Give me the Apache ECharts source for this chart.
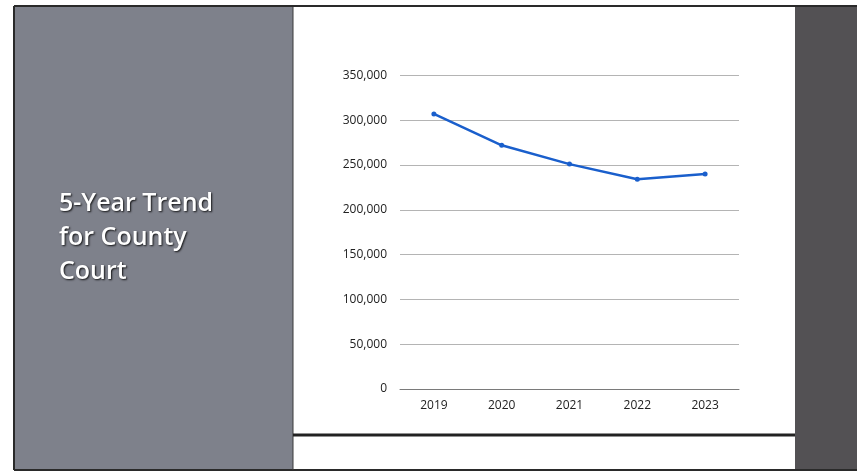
<!DOCTYPE html>
<html>
<head>
<meta charset="utf-8">
<script src="https://cdn.jsdelivr.net/npm/echarts@6/dist/echarts.min.js"></script>
<style>
  html, body { margin: 0; padding: 0; background: #ffffff; }
  #chart { width: 857px; height: 474px; }
</style>
</head>
<body>
<div id="chart"></div>
<script>
// Yearly case totals for County Court
const years = ['2019', '2020', '2021', '2022', '2023'];
const caseTotals = [307000, 272000, 251000, 234000, 240000];
const yTicks = { min: 0, max: 350000, step: 50000 };
const slideTitle = '5-Year Trend\nfor County\nCourt';

const chart = echarts.init(document.getElementById('chart'), null, { renderer: 'canvas' });

chart.setOption({
  backgroundColor: '#ffffff',
  animation: false,
  graphic: [
    // left title panel
    { type: 'rect', shape: { x: 15, y: 7, width: 278, height: 463 }, style: { fill: '#7e818b' }, z: -10 },
    // right side panel
    { type: 'rect', shape: { x: 795, y: 7, width: 62, height: 463 }, style: { fill: '#535154' }, z: -10 },
    // frame lines
    { type: 'line', shape: { x1: 14, y1: 6, x2: 857, y2: 6 }, style: { stroke: '#2a2a2a', lineWidth: 2 }, z: 5 },
    { type: 'line', shape: { x1: 14, y1: 6, x2: 14, y2: 470 }, style: { stroke: '#2a2a2a', lineWidth: 2 }, z: 5 },
    { type: 'line', shape: { x1: 14, y1: 470, x2: 857, y2: 470 }, style: { stroke: '#2a2a2a', lineWidth: 2 }, z: 5 },
    { type: 'line', shape: { x1: 293, y1: 7, x2: 293, y2: 470 }, style: { stroke: '#3a3a3a', lineWidth: 1 }, z: 5 },
    { type: 'line', shape: { x1: 293, y1: 435, x2: 795, y2: 435 }, style: { stroke: '#222222', lineWidth: 3 }, z: 5 },
    // slide title
    {
      type: 'text', left: 59, top: 187, z: 6,
      style: {
        text: slideTitle,
        fill: '#ffffff',
        font: '600 25px "Open Sans", sans-serif',
        lineHeight: 34,
        textShadowColor: 'rgba(0,0,0,0.85)',
        textShadowBlur: 2,
        textShadowOffsetX: 1,
        textShadowOffsetY: 1
      }
    }
  ],
  grid: { left: 400, right: 118, top: 75.4, bottom: 85, containLabel: false },
  xAxis: {
    type: 'category',
    data: years,
    boundaryGap: true,
    axisLine: { show: true, lineStyle: { color: '#7a7a7a', width: 1 } },
    axisTick: { show: false },
    axisLabel: { color: '#222222', fontSize: 12, margin: 11, fontFamily: '"Open Sans", sans-serif' }
  },
  yAxis: {
    type: 'value',
    min: yTicks.min,
    max: yTicks.max,
    interval: yTicks.step,
    axisLine: { show: false },
    axisTick: { show: false },
    splitLine: { show: true, lineStyle: { color: '#b4b4b4', width: 1 } },
    axisLabel: {
      color: '#222222', fontSize: 12, margin: 13, fontFamily: '"Open Sans", sans-serif',
      formatter: v => v.toLocaleString('en-US')
    }
  },
  series: [{
    type: 'line',
    data: caseTotals,
    symbol: 'circle',
    symbolSize: 5,
    lineStyle: { color: '#1a5fcc', width: 2.5 },
    itemStyle: { color: '#1a5fcc' }
  }]
});
</script>
</body>
</html>
